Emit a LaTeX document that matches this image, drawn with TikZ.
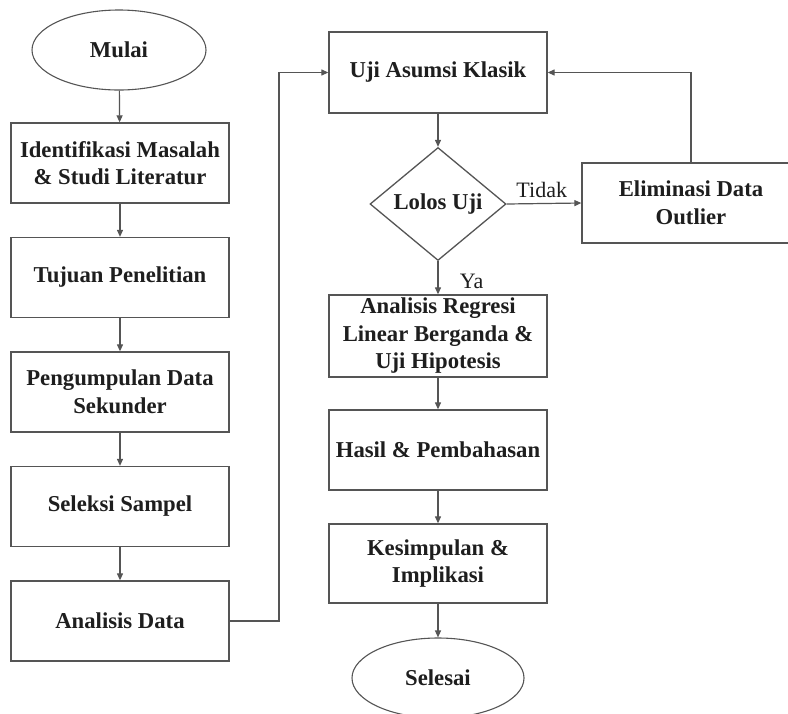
\documentclass[tikz,border=0pt]{standalone}
\usepackage{fontspec}
\setmainfont{Liberation Serif}[BoldFont={Liberation Serif Bold},ItalicFont={Liberation Serif Italic}]
\usetikzlibrary{shapes.geometric,arrows.meta}
\definecolor{linegray}{HTML}{555555}
\definecolor{txt}{HTML}{1E1E1E}
\begin{document}
\begin{tikzpicture}[x=1pt,y=-1pt,
  every node/.style={text=txt, font=\fontsize{22.7}{27.5}\selectfont\bfseries, align=center},
  procbox/.style={draw=linegray, line width=1.3pt, rectangle, minimum width=218pt, minimum height=80pt, inner sep=1pt},
  termin/.style={draw=linegray, line width=1.1pt, ellipse, minimum width=174pt, minimum height=80pt, inner sep=0pt},
  decis/.style={draw=linegray, line width=1.3pt, diamond, minimum width=136pt, minimum height=113pt, inner sep=0pt},
  arr/.style={draw=linegray, line width=1.2pt, -{Triangle[length=7pt,width=6pt]}},
  lbl/.style={font=\fontsize{22}{26}\selectfont, text=txt}
]
\clip (0,0) rectangle (788,713);
\fill[white] (0,0) rectangle (788,713);
% left column
\node[termin] (mulai) at (119,50) {Mulai};
\node[procbox] (ident) at (120,163) {Identifikasi Masalah\\\& Studi Literatur};
\node[procbox] (tujuan) at (120,277.5) {Tujuan Penelitian};
\node[procbox] (kumpul) at (120,392) {Pengumpulan Data\\Sekunder};
\node[procbox] (seleksi) at (120,506.5) {Seleksi Sampel};
\node[procbox] (analisis) at (120,621) {Analisis Data};
% right column
\node[procbox, minimum height=81pt] (uji) at (438,72.5) {Uji Asumsi Klasik};
\node[decis] (lolos) at (438,204) {Lolos Uji};
\node[procbox] (elim) at (691,203) {Eliminasi Data\\Outlier};
\node[procbox, minimum height=82pt, inner sep=0pt] (regresi) at (438,336) {Analisis Regresi\\Linear Berganda \&\\Uji Hipotesis};
\node[procbox] (hasil) at (438,450) {Hasil \& Pembahasan};
\node[procbox, minimum height=79pt] (simpul) at (438,563.5) {Kesimpulan \&\\Implikasi};
\node[termin, minimum width=172pt] (selesai) at (438,678) {Selesai};
\coordinate (jog) at (279,0);
% connectors
\draw[arr] (mulai) -- (ident);
\draw[arr] (ident) -- (tujuan);
\draw[arr] (tujuan) -- (kumpul);
\draw[arr] (kumpul) -- (seleksi);
\draw[arr] (seleksi) -- (analisis);
\draw[arr] (analisis.east) -- (analisis.east -| jog) |- (uji.west);
\draw[arr] (uji) -- (lolos);
\draw[arr] (lolos.east) -- node[lbl, above=2pt, pos=0.47] (tidak) {Tidak} (elim.west);
\draw[arr] (lolos.south) -- node[lbl, right=18pt, pos=0.6] (ya) {Ya} (regresi.north);
\draw[arr] (elim.north) |- (uji.east);
\draw[arr] (regresi) -- (hasil);
\draw[arr] (hasil) -- (simpul);
\draw[arr] (simpul) -- (selesai);
\end{tikzpicture}
\end{document}
